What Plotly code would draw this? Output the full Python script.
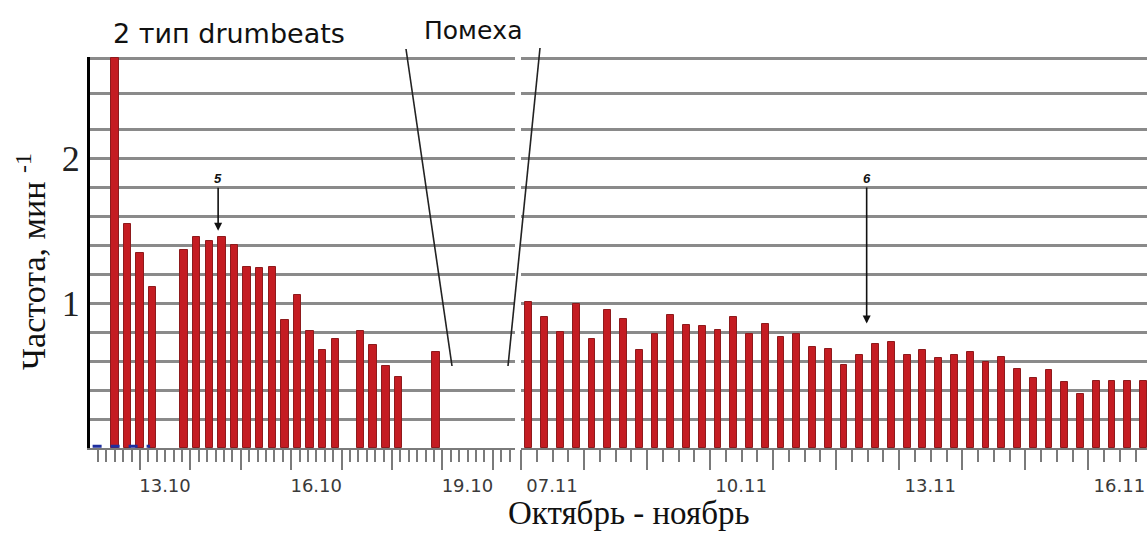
import plotly.graph_objects as go

# ---- October segment (days of month, 6-hourly samples) ----
oct_days = [12.5, 12.75, 13.0, 13.25,
            13.875, 14.125, 14.375, 14.625, 14.875, 15.125, 15.375, 15.625,
            15.875, 16.125, 16.375, 16.625, 16.875,
            17.375, 17.625, 17.875, 18.125,
            18.875]
oct_vals = [2.69, 1.55, 1.345, 1.11,
            1.37, 1.46, 1.43, 1.46, 1.40, 1.25, 1.24, 1.25,
            0.885, 1.06, 0.81, 0.68, 0.755,
            0.81, 0.71, 0.565, 0.49,
            0.66]

# ---- November segment ----
nov_days = [7.125, 7.375, 7.625, 7.875, 8.125, 8.375, 8.625, 8.875,
            9.125, 9.375, 9.625, 9.875, 10.125, 10.375, 10.625, 10.875,
            11.125, 11.375, 11.625, 11.875, 12.125, 12.375, 12.625, 12.875,
            13.125, 13.375, 13.625, 13.875, 14.125, 14.375, 14.625, 14.875,
            15.125, 15.375, 15.625, 15.875, 16.125, 16.375, 16.625, 16.875]
nov_vals = [1.01, 0.905, 0.80, 0.995, 0.755, 0.955, 0.89, 0.68,
            0.79, 0.92, 0.85, 0.84, 0.815, 0.905, 0.79, 0.855,
            0.765, 0.79, 0.70, 0.685, 0.57, 0.645, 0.715, 0.73,
            0.64, 0.68, 0.62, 0.645, 0.665, 0.595, 0.63, 0.545,
            0.485, 0.54, 0.455, 0.37, 0.465, 0.46, 0.46, 0.46]

# type-1 events (none recorded) shown as a dashed baseline
type1_days = [12.06, 13.2]
type1_vals = [0.012, 0.012]

# axis tick definitions
oct_day_ticks = [12, 13, 14, 15, 16, 17, 18, 19, 20]
oct_day_text = ["", "13.10", "", "", "16.10", "", "", "19.10", ""]
nov_day_ticks = [7, 8, 9, 10, 11, 12, 13, 14, 15, 16]
nov_day_text = ["07.11", "", "", "10.11", "", "", "13.11", "", "", "16.11"]
y_grid = [0.2, 0.4, 0.6, 0.8, 1.0, 1.2, 1.4, 1.6, 1.8, 2.0, 2.2, 2.45, 2.69]
y_text = ["", "", "", "", "1", "", "", "", "", "2", "", "", ""]

W, H = 1147, 533
ML, MR, MT, MB = 90, 0, 57, 85
PW, PH = W - ML - MR, H - MT - MB


def px_x(p):
    return (p - ML) / PW


def px_y(p):
    return (H - MB - p) / PH


BAR = "#c41c22"
BAR_EDGE = "#8e1a1c"
GRID = "#8a8a8a"
TICK = "#7a7a7a"
SANS = "DejaVu Sans, Verdana, sans-serif"
SERIF = "Liberation Serif, Times New Roman, serif"

fig = go.Figure()
fig.add_trace(go.Bar(x=oct_days, y=oct_vals, width=0.15, xaxis="x", yaxis="y",
                     marker=dict(color=BAR, line=dict(color=BAR_EDGE, width=1))))
fig.add_trace(go.Bar(x=nov_days, y=nov_vals, width=0.108, xaxis="x2", yaxis="y2",
                     marker=dict(color=BAR, line=dict(color=BAR_EDGE, width=1))))
fig.add_trace(go.Scatter(x=type1_days, y=type1_vals, mode="lines", xaxis="x", yaxis="y",
                         line=dict(color="#1f2f9e", width=3, dash="dash")))

tick_font = dict(family=SANS, size=18, color="#3a3a3a")

xcommon = dict(showgrid=False, zeroline=False, showline=True, linecolor=TICK, linewidth=2,
               ticks="outside", ticklen=20, tickwidth=2, tickcolor=TICK,
               tickfont=tick_font, anchor="y", fixedrange=True)

fig.update_layout(
    width=W, height=H,
    margin=dict(l=ML, r=MR, t=MT, b=MB),
    paper_bgcolor="white", plot_bgcolor="white",
    showlegend=False, bargap=0,
    xaxis=dict(xcommon, domain=[0, px_x(515)], range=[12.008, 20.44],
               tickmode="array", tickvals=oct_day_ticks, ticktext=oct_day_text,
               ticklabelshift=25,
               minor=dict(tickmode="linear", tick0=12, dtick=1 / 6, ticks="outside",
                          ticklen=12, tickwidth=2, tickcolor=TICK, showgrid=False)),
    xaxis2=dict(xcommon, domain=[px_x(521), 1], range=[7.0, 16.93], anchor="y2",
                tickmode="array", tickvals=nov_day_ticks, ticktext=nov_day_text,
                ticklabelshift=31,
                minor=dict(tickmode="linear", tick0=7, dtick=0.25, ticks="outside",
                           ticklen=12, tickwidth=2, tickcolor=TICK, showgrid=False)),
    yaxis=dict(domain=[0, 1], range=[0, 2.70], tickmode="array", tickvals=y_grid, ticktext=y_text,
               showgrid=True, gridcolor=GRID, gridwidth=2.5, zeroline=False,
               showline=True, linecolor="black", linewidth=3, ticks="",
               ticklabelstandoff=0,
               tickfont=dict(family=SERIF, size=36, color="#222"),
               fixedrange=True),
    yaxis2=dict(domain=[0, 1], range=[0, 2.70], anchor="x2", matches="y",
                tickmode="array", tickvals=y_grid, showticklabels=False,
                showgrid=True, gridcolor=GRID, gridwidth=2.5, zeroline=False,
                showline=False, ticks="", fixedrange=True),
)

ann = []
centered = dict(xanchor="center", yanchor="middle", showarrow=False, xref="paper", yref="paper")
# titles
ann.append(dict(centered, text="2 тип drumbeats", x=px_x(229), y=px_y(33),
                font=dict(family=SANS, size=27, color="#111")))
ann.append(dict(centered, text="Помеха", x=px_x(473), y=px_y(30),
                font=dict(family=SANS, size=25, color="#111")))
ann.append(dict(centered, text="Октябрь - ноябрь", x=px_x(628), y=px_y(513),
                font=dict(family=SERIF, size=33, color="#111")))
ann.append(dict(centered, text="Частота, мин <sup>-1</sup>", x=px_x(31), y=px_y(262),
                textangle=-90, font=dict(family=SERIF, size=34, color="#111")))

# event markers 5 and 6
mark_font = dict(family="Liberation Sans, Arial, sans-serif", size=13, color="#111")
ann.append(dict(text="<b><i>5</i></b>", x=14.55, y=1.50, xref="x", yref="y", showarrow=True,
                arrowhead=2, arrowsize=1, arrowwidth=1.6, arrowcolor="#111", ax=0, ay=-52,
                font=mark_font))
ann.append(dict(text="<b><i>6</i></b>", x=12.483, y=0.86, xref="x2", yref="y2", showarrow=True,
                arrowhead=2, arrowsize=1, arrowwidth=1.6, arrowcolor="#111", ax=0, ay=-145,
                font=mark_font))

# leader lines from the "Помеха" label down into the interference gap
leader = dict(type="line", xref="paper", yref="paper", line=dict(color="#222", width=1.6))
shapes = [
    dict(leader, x0=px_x(406), y0=px_y(49), x1=px_x(452), y1=px_y(366)),
    dict(leader, x0=px_x(540), y0=px_y(48), x1=px_x(508), y1=px_y(366)),
]

fig.update_layout(annotations=ann, shapes=shapes)

fig.write_html("out.html")
